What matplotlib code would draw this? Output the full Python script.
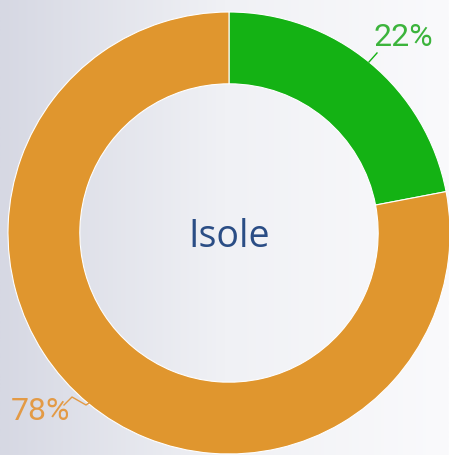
import matplotlib.pyplot as plt
import numpy as np
from matplotlib.colors import LinearSegmentedColormap

labels = ['22%', '78%']
values = [22, 78]
colors = ['#14b214', '#e0962e']
label_colors = ['#3cb43c', '#e39a45']
center_text = 'Isole'

W, H = 449, 455
fig = plt.figure(figsize=(W / 100, H / 100), dpi=100)
ax = fig.add_axes([0, 0, 1, 1])

# background gradient, grey-blue on the left fading to white
grad = np.linspace(0, 1, 256).reshape(1, -1)
cmap = LinearSegmentedColormap.from_list('bg', ['#d6d8e3', '#f0f1f5', '#fafafc'])
ax.imshow(grad, extent=[0, W, 0, H], aspect='auto', cmap=cmap, zorder=0)

cx, cy, r = 229, H - 233, 221
ax.pie(values, colors=colors, startangle=90, counterclock=False,
       center=(cx, cy), radius=r,
       wedgeprops=dict(width=r * 0.325, edgecolor='white', linewidth=0.8))

ax.text(cx, cy - 4, center_text, ha='center', va='center', fontsize=27,
        color='#2a4d85', family=['Open Sans', 'DejaVu Sans'])

# labels with leader lines
ax.plot([369, 377], [H - 62, H - 53], color=colors[0], lw=1)
ax.text(403, H - 37, labels[0], ha='center', va='center', fontsize=23,
        color=label_colors[0], family=['Roboto', 'DejaVu Sans'])
ax.plot([64, 72, 86, 89], [H - 405, H - 397, H - 405, H - 403],
        color=label_colors[1], lw=1)
ax.text(40, H - 412, labels[1], ha='center', va='center', fontsize=23,
        color=label_colors[1], family=['Roboto', 'DejaVu Sans'])

ax.set_xlim(0, W)
ax.set_ylim(0, H)
ax.set_aspect('auto')
ax.axis('off')
fig.savefig('out.png', dpi=100)
